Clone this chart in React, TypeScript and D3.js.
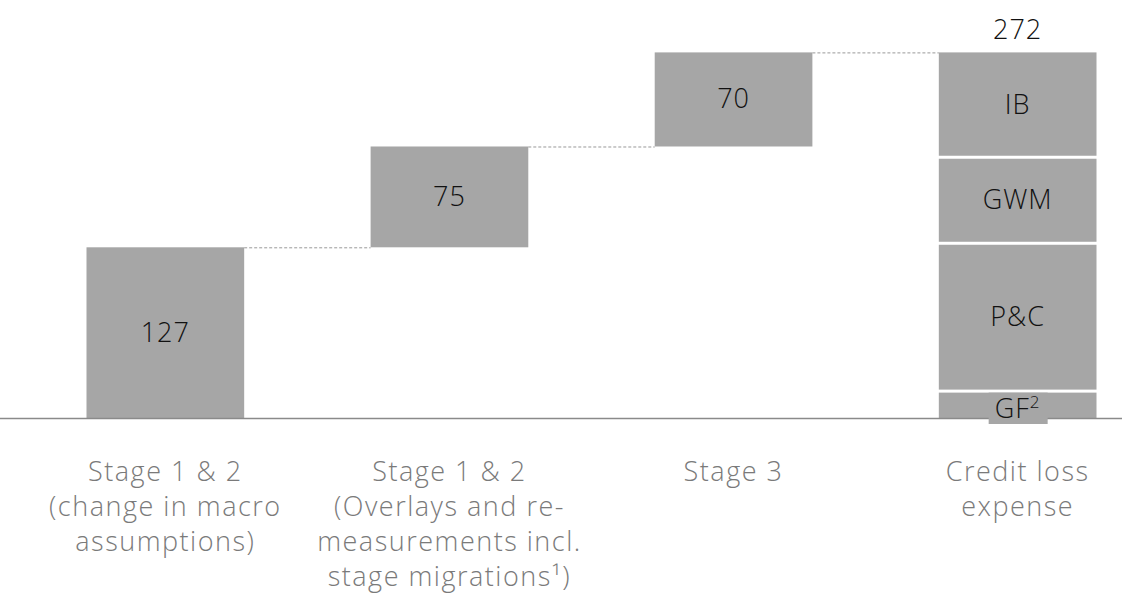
import React from "react";
import * as d3 from "d3";

const categories = ["s12macro", "s12overlay", "s3", "total"];
const categoryLabels = [
  ["Stage 1 & 2", "(change in macro", "assumptions)"],
  ["Stage 1 & 2", "(Overlays and re-", "measurements incl.", "stage migrations¹)"],
  ["Stage 3"],
  ["Credit loss", "expense"],
];
const steps = [127, 75, 70];
const total = 272;
const segmentNames = ["GF", "P&C", "GWM", "IB"];
const segmentValues = [20, 110, 64, 78];

const W = 1139;
const H = 602;
const baseY = 418;
const barFill = "#a6a6a6";
const font = "'Open Sans', 'Noto Sans', sans-serif";

export default function App() {
  const x = d3
    .scaleBand<string>()
    .domain(categories)
    .range([86.5, 1096.5])
    .paddingInner(0.445)
    .paddingOuter(0);
  const y = d3.scaleLinear().domain([0, 272]).range([baseY, 52.4]);
  const bw = x.bandwidth();

  // running offsets for the waterfall steps
  const starts: number[] = [];
  let acc = 0;
  steps.forEach((v) => {
    starts.push(acc);
    acc += v;
  });

  // stacked segments of the total bar
  const segs: { name: string; y0: number; y1: number }[] = [];
  let s = 0;
  segmentNames.forEach((n, i) => {
    segs.push({ name: n, y0: s, y1: s + segmentValues[i] });
    s += segmentValues[i];
  });

  const totalX = x("total")!;
  const gf = segs[0];

  const valueText = {
    textAnchor: "middle" as const,
    fontFamily: font,
    fontSize: 27,
    fontWeight: 300,
    letterSpacing: 1,
    fill: "#111",
  };

  return (
    <svg width={W} height={H} style={{ display: "block", position: "absolute", left: 0, top: 0 }}>
      <rect width={W} height={H} fill="#fff" />
      {/* connectors */}
      {steps.map((v, i) => {
        const x0 = x(categories[i])! + bw;
        const x1 = x(categories[i + 1])!;
        const yy = y(starts[i] + v);
        return (
          <line
            key={"c" + i}
            x1={x0}
            x2={x1}
            y1={yy + 0.5}
            y2={yy + 0.5}
            stroke="#999"
            strokeWidth={1}
            strokeDasharray="3,2"
          />
        );
      })}
      {/* step bars */}
      {steps.map((v, i) => {
        const bx = x(categories[i])!;
        const top = y(starts[i] + v);
        const bot = y(starts[i]);
        return (
          <g key={"b" + i}>
            <rect x={bx} y={top} width={bw} height={bot - top} fill={barFill} />
            <text x={bx + bw / 2} y={(top + bot) / 2 + 9} {...valueText}>
              {v}
            </text>
          </g>
        );
      })}
      {/* stacked total */}
      {segs.map((sg, i) => {
        const top = y(sg.y1);
        const bot = y(sg.y0);
        const gapTop = i === segs.length - 1 ? 0 : 1.5;
        const gapBot = i === 0 ? 0 : 1.5;
        return (
          <g key={"s" + i}>
            <rect
              x={totalX}
              y={top + gapTop}
              width={bw}
              height={bot - top - gapTop - gapBot}
              fill={barFill}
            />
            {sg.name !== "GF" && (
              <text x={totalX + bw / 2} y={(top + bot) / 2 + 9} {...valueText}>
                {sg.name}
              </text>
            )}
          </g>
        );
      })}
      <text x={totalX + bw / 2} y={y(total) - 13} {...valueText}>
        {total}
      </text>
      {/* axis */}
      <line x1={0} x2={1122} y1={baseY + 0.5} y2={baseY + 0.5} stroke="#8a8a8a" strokeWidth={1.5} />
      {/* GF label box */}
      <rect
        x={totalX + bw / 2 - 29}
        y={y(gf.y1) + 1.5}
        width={59}
        height={baseY + 6 - y(gf.y1) - 1.5}
        fill={barFill}
      />
      <text {...valueText} x={totalX + bw / 2} y={baseY}>
        GF<tspan fontSize={17} dy={-10}>2</tspan>
      </text>
      {/* category labels */}
      {categoryLabels.map((lines, i) => (
        <text
          key={"l" + i}
          textAnchor="middle"
          fontFamily={font}
          fontWeight={300}
          fontSize={27}
          letterSpacing={1.5}
          fill="#7a7a7a"
        >
          {lines.map((ln, j) => (
            <tspan key={j} x={x(categories[i])! + bw / 2} y={481 + j * 35}>
              {ln}
            </tspan>
          ))}
        </text>
      ))}
    </svg>
  );
}
